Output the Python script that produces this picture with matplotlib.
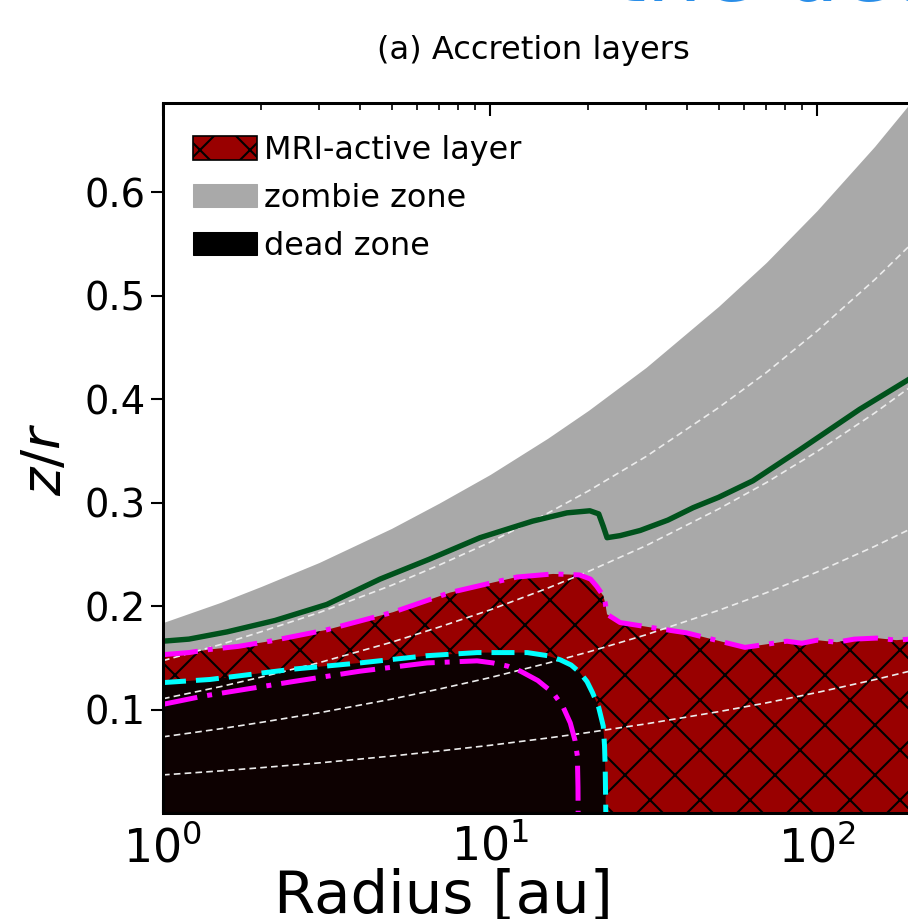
import numpy as np
import matplotlib
matplotlib.use("Agg")
import matplotlib.pyplot as plt
from matplotlib.patches import Patch
from matplotlib.ticker import LogLocator, FixedLocator

plt.rcParams['font.family'] = ['DejaVu Sans']
plt.rcParams['mathtext.fontset'] = 'dejavusans'
plt.rcParams['hatch.linewidth'] = 1.0

# ---- data -----------------------------------------------------------------
# pressure scale height H/r
r_scale = [1, 1.5, 2, 3, 5, 7, 10, 15, 20, 30, 50, 70, 100, 150, 200, 300]
h_over_r = [0.0368, 0.0407, 0.0438, 0.0484, 0.0550, 0.0599, 0.0654, 0.0724,
            0.0778, 0.0861, 0.0979, 0.1064, 0.1164, 0.1288, 0.1384, 0.1532]
scale_multiples = [1, 2, 3, 4]

# upper edge of the zombie zone
zombie_top = [0.184, 0.2035, 0.219, 0.242, 0.275, 0.2995, 0.327, 0.362,
              0.389, 0.4305, 0.4895, 0.532, 0.582, 0.644, 0.692, 0.766]

# green solid front
r_front = [1, 1.2, 1.57, 2.2, 3.17, 4.61, 6.5, 9.32, 13.5, 17.2, 20.2, 21.5,
           22.2, 22.8, 25, 28.8, 35, 41.8, 50, 63.7, 88.7, 135, 191, 300]
z_front = [0.166, 0.168, 0.175, 0.186, 0.2015, 0.226, 0.245, 0.266, 0.282,
           0.290, 0.292, 0.289, 0.277, 0.266, 0.268, 0.273, 0.283, 0.295,
           0.305, 0.321, 0.351, 0.390, 0.419, 0.462]

# top of the MRI-active layer
r_active = [1, 1.2, 1.39, 1.7, 2.12, 3.17, 5.05, 7.55, 10, 12.1, 15.6, 18.8,
            20.3, 21.2, 22.2, 22.5, 22.8, 25.0, 31.5, 40.0, 50.5, 60.2, 70,
            80.9, 90, 100, 115, 130, 152, 175, 191, 300]
z_active = [0.153, 0.155, 0.158, 0.161, 0.166, 0.177, 0.194, 0.213, 0.222,
            0.228, 0.231, 0.230, 0.226, 0.219, 0.210, 0.203, 0.192, 0.184,
            0.179, 0.174, 0.166, 0.160, 0.163, 0.166, 0.164, 0.167, 0.165,
            0.168, 0.169, 0.167, 0.168, 0.167]

# top of the dead zone
r_dead = [1, 1.39, 2.5, 4.0, 6.42, 9.13, 13.0, 15.0, 16.4, 17.7, 18.8, 19.8,
          20.6, 21.5, 22.2, 22.4, 22.5, 22.55, 22.6]
z_dead = [0.126, 0.129, 0.139, 0.145, 0.152, 0.155, 0.155, 0.152, 0.148,
          0.143, 0.136, 0.127, 0.116, 0.102, 0.084, 0.065, 0.045, 0.025, 0.0]

# inner dead-zone boundary (dash-dot)
r_inner = [1, 1.33, 2.5, 4.0, 6.42, 9.13, 10.2, 11.3, 12.4, 14.0, 15.6, 16.7,
           17.6, 18.2, 18.5, 18.58, 18.6]
z_inner = [0.105, 0.113, 0.127, 0.137, 0.145, 0.147, 0.145, 0.142, 0.137,
           0.128, 0.116, 0.103, 0.087, 0.070, 0.055, 0.025, 0.0]

legend_labels = ["MRI-active layer", "zombie zone", "dead zone"]

# ---- colours ---------------------------------------------------------------
c_zombie = '#a9a9a9'
c_active = '#990000'
c_dead = '#0d0101'
c_front = '#00521c'
c_magenta = '#ff00ff'
c_cyan = '#00ffff'

# ---- figure ----------------------------------------------------------------
W, H, DPI = 909, 919, 150
fig = plt.figure(figsize=(W / DPI, H / DPI), dpi=DPI)
ax_left, ax_bottom, ax_top = 163, 813, 103
xmax = 300.0
dec_px = 327.0
ax_w = dec_px * np.log10(xmax)
ax = fig.add_axes([ax_left / W, 1 - ax_bottom / H, ax_w / W, (ax_bottom - ax_top) / H])
ax.set_xscale('log')
ax.set_xlim(1, xmax)
ax.set_ylim(0, 0.686)

ax.fill_between(r_scale, 0, zombie_top, color=c_zombie, lw=0, zorder=1)
ax.fill_between(r_active, 0, z_active, facecolor=c_active, edgecolor='black',
                hatch='x', lw=0, zorder=2)
ax.fill(list(r_dead) + [1], list(z_dead) + [0], color=c_dead, lw=0, zorder=3)

h = np.asarray(h_over_r)
for n in scale_multiples:
    ax.plot(r_scale, n * h, color='#ececec', lw=0.8, ls=(0, (4, 2.5)), zorder=4)

ax.plot(r_front, z_front, color=c_front, lw=2.6, zorder=5)
ax.plot(r_active, z_active, color=c_magenta, lw=2.4, ls=(0, (7, 2, 1, 2)), zorder=6)
ax.plot(r_inner, z_inner, color=c_magenta, lw=2.4, ls=(0, (7, 2, 1, 2)), zorder=6)
ax.plot(r_dead, z_dead, color=c_cyan, lw=2.4, ls=(0, (4.6, 2)), zorder=6)

# axes styling
for s in ax.spines.values():
    s.set_linewidth(1.45)
    s.set_zorder(10)
ax.xaxis.set_major_locator(LogLocator(base=10, numticks=10))
ax.xaxis.set_minor_locator(LogLocator(base=10, subs=np.arange(2, 10), numticks=20))
ax.yaxis.set_major_locator(FixedLocator([0.1, 0.2, 0.3, 0.4, 0.5, 0.6]))
ax.tick_params(axis='x', which='both', direction='in', top=True, bottom=True,
               labelsize=22, pad=6)
ax.tick_params(axis='x', which='major', length=6.2, width=1.0)
ax.tick_params(axis='x', which='minor', length=3.4, width=0.8)
ax.tick_params(axis='y', which='major', direction='out', left=True, right=False,
               length=5.8, width=1.0, labelsize=18.5, pad=2.5)

# labels
fig.text(443 / W, 1 - 913 / H, 'Radius [au]', ha='center', va='baseline', fontsize=28.5)
fig.text(45 / W, 1 - 459 / H, r'$z/r$', ha='center', va='center', rotation=90, fontsize=26)
fig.text(533 / W, 1 - 50 / H, '(a) Accretion layers', ha='center', va='center', fontsize=15.4)
fig.text(612 / W, 1 - 1.5 / H, 'the dead zone', ha='left', va='baseline',
         fontsize=42, color='#2a8ee8')

handles = [Patch(facecolor=c_active, edgecolor='black', hatch='x', lw=0.8),
           Patch(facecolor=c_zombie, edgecolor=c_zombie, lw=0.5),
           Patch(facecolor='black', edgecolor='black', lw=0.5)]
ax.legend(handles, legend_labels, loc='upper left', frameon=False,
          bbox_to_anchor=(193 / W, 1 - 135 / H), bbox_transform=fig.transFigure,
          borderpad=0, borderaxespad=0, fontsize=15.3, handlelength=2.0,
          handleheight=0.75, handletextpad=0.22, labelspacing=0.53)

fig.savefig('out.png', dpi=DPI)
